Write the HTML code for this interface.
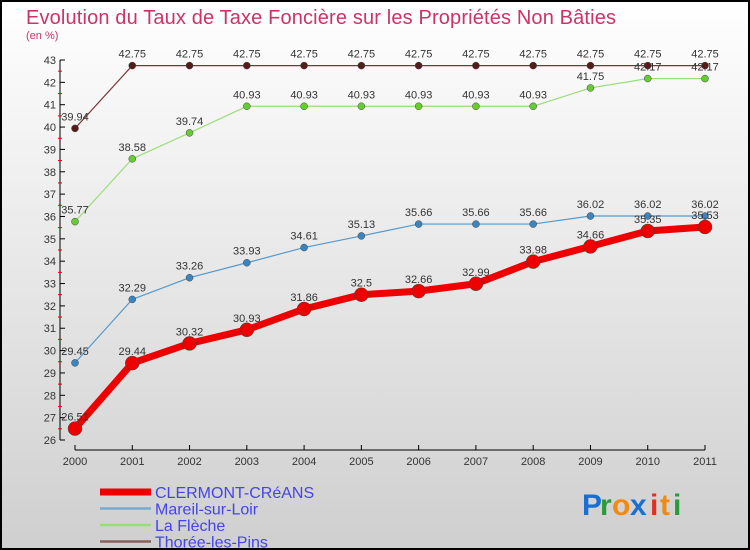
<!DOCTYPE html>
<html><head><meta charset="utf-8"><style>
body{margin:0}
#c{width:750px;height:550px;position:relative;overflow:hidden;font-family:"Liberation Sans",sans-serif}
</style></head><body>
<div id="c">
<svg id="s" width="750" height="550" xmlns="http://www.w3.org/2000/svg">
<defs><linearGradient id="bg" x1="0" y1="0" x2="0" y2="1"><stop offset="0" stop-color="#ffffff"/><stop offset="1" stop-color="#cfcfcf"/></linearGradient></defs>
<rect x="0" y="0" width="750" height="550" fill="url(#bg)"/>
<rect x="1" y="1" width="748" height="548" fill="none" stroke="#000" stroke-width="2"/>
<text x="26" y="24" font-size="20" fill="#cc3366" textLength="590">Evolution du Taux de Taxe Foncière sur les Propriétés Non Bâties</text>
<text x="26" y="39" font-size="11" fill="#cc3366">(en %)</text>
<g id="axes"></g>
<g id="series"></g>
<g id="legend"></g>
<g font-size="30" font-weight="bold">
<text x="582" y="515" fill="#1a6fd0">P</text><text x="600" y="515" fill="#2a9a3a">r</text><text x="612" y="515" fill="#f08a10">o</text><text x="630" y="515" fill="#1a6fd0">x</text><text x="650" y="515" fill="#e03020">i</text><text x="660" y="515" fill="#f08a10">t</text><text x="673" y="515" fill="#2a9a3a">i</text>
</g>
</svg>
</div>
<script>
const years=["2000","2001","2002","2003","2004","2005","2006","2007","2008","2009","2010","2011"];
const clermont=[26.51,29.44,30.32,30.93,31.86,32.5,32.66,32.99,33.98,34.66,35.35,35.53];
const mareil=[29.45,32.29,33.26,33.93,34.61,35.13,35.66,35.66,35.66,36.02,36.02,36.02];
const fleche=[35.77,38.58,39.74,40.93,40.93,40.93,40.93,40.93,40.93,41.75,42.17,42.17];
const thoree=[39.94,42.75,42.75,42.75,42.75,42.75,42.75,42.75,42.75,42.75,42.75,42.75];
const yTicks=[26,27,28,29,30,31,32,33,34,35,36,37,38,39,40,41,42,43];
const names=["CLERMONT-CRéANS","Mareil-sur-Loir","La Flèche","Thorée-les-Pins"];
const NS="http://www.w3.org/2000/svg";
const X=i=>75+i*(630/11);
const Y=v=>440-(v-26)*(380/17);
function mk(t,a,p){const e=document.createElementNS(NS,t);for(const k in a)e.setAttribute(k,a[k]);p.appendChild(e);return e;}
const ax=document.getElementById('axes');
let l=mk('line',{x1:60,y1:60,x2:60,y2:440,stroke:'#000'},ax);


l=mk('line',{x1:75,y1:450,x2:705,y2:450,stroke:'#000'},ax);


yTicks.forEach((v,i)=>{
 mk('line',{x1:60,y1:Y(v),x2:65,y2:Y(v),stroke:'#000'},ax);
 if(i<yTicks.length-1) mk('line',{x1:58,y1:Y(v+0.5),x2:62,y2:Y(v+0.5),stroke:'#e00'},ax);
 const t=mk('text',{x:56,y:Y(v)+4,'font-size':11,fill:'#333','text-anchor':'end'},ax);
 t.textContent=v;
 
 
});
years.forEach((y,i)=>{
 mk('line',{x1:X(i),y1:445,x2:X(i),y2:450,stroke:'#000'},ax);
 const t=mk('text',{x:X(i),y:465,'font-size':11,fill:'#333','text-anchor':'middle'},ax);
 t.textContent=y;
 
 
});
const sg=document.getElementById('series');
const defs=[[thoree,'#7a3535','#5a1a1a',1.2,3.5,'thoree'],[fleche,'#99dd77','#66cc33',1.2,3.5,'la-fleche'],[mareil,'#5599cc','#3a85c0',1.2,3.5,'mareil'],[clermont,'#ee0000','#ee0000',7,7,'clermont']];
defs.forEach(([d,c,pc,w,r,n])=>{
 const p=mk('polyline',{points:d.map((v,i)=>X(i)+','+Y(v)).join(' '),fill:'none',stroke:c,'stroke-width':w,'stroke-linejoin':'round'},sg);
 
 
 d.forEach((v,i)=>{
  const ci=mk('circle',{cx:X(i),cy:Y(v),r:r,fill:pc,stroke:'#444','stroke-width':0.5},sg);
  
  
  const t=mk('text',{x:X(i),y:Y(v)-8,'font-size':11,fill:'#333','text-anchor':'middle'},sg);
  t.textContent=v.toFixed(2).replace(/0$/,'').replace(/\.$/,'');
  
  
 });
});
const lg=document.getElementById('legend');
const lc=['#ee0000','#77aacc','#99dd77','#886060'],lw=[7,2.5,2.5,2.5];
names.forEach((n,i)=>{
 const y=492+i*16.5;
 mk('line',{x1:100,y1:y,x2:151,y2:y,stroke:lc[i],'stroke-width':lw[i]},lg);
 const t=mk('text',{x:155,y:y+6,'font-size':16,fill:'#4444ee'},lg);
 t.textContent=n;
 
 
});
</script>
</body></html>
